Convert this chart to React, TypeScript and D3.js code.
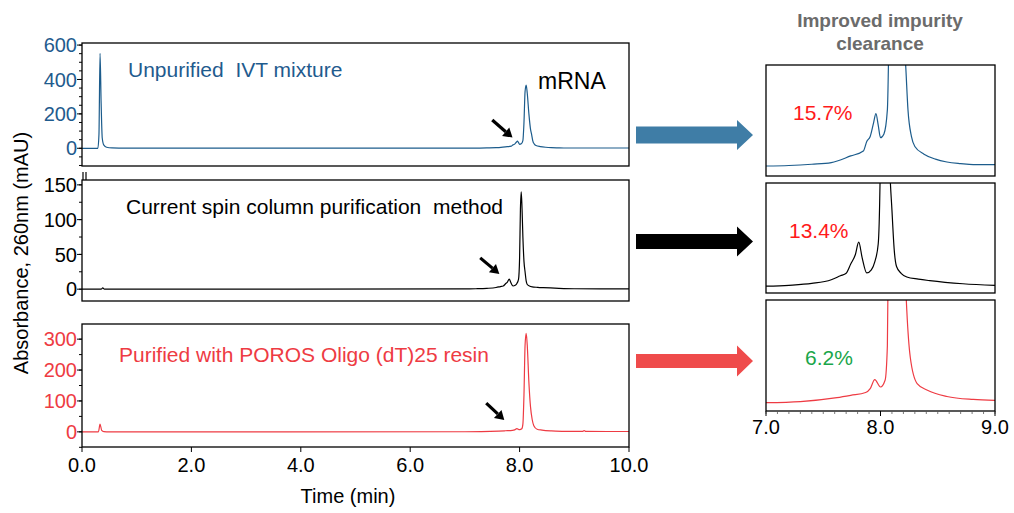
import * as d3 from 'd3';

// retention time axis (min)
const timeTicks = [0, 2, 4, 6, 8, 10];
const zoomTicks = [7, 8, 9];

// Unpurified IVT mixture
const ivtTime = [0, 0.29, 0.31, 0.33, 0.35, 0.37, 0.4, 0.45, 0.55, 0.8, 7.0, 7.2, 7.4, 7.57, 7.74, 7.85, 7.88, 7.91, 7.94, 7.96, 7.98, 8.0, 8.03, 8.06, 8.08, 8.1, 8.12, 8.14, 8.17, 8.2, 8.22, 8.24, 8.27, 8.3, 8.38, 8.48, 8.58, 8.7, 8.81, 9.0, 10.0];
const ivtAbs = [0, 0, 80, 552, 260, 60, 18, 6, 2, 0.5, 0.6, 1, 2, 3.3, 8.6, 12.5, 20, 24, 35, 42, 33, 23, 26, 45, 150, 330, 368, 320, 200, 110, 80, 45, 24, 16, 10, 6, 3.8, 2.5, 1.7, 1.7, 1.5];

// spin column
const spinTime = [0, 0.35, 0.38, 0.41, 0.45, 7.0, 7.2, 7.4, 7.57, 7.65, 7.7, 7.74, 7.78, 7.81, 7.84, 7.88, 7.92, 7.95, 7.98, 8.0, 8.015, 8.03, 8.045, 8.06, 8.08, 8.1, 8.12, 8.14, 8.18, 8.23, 8.33, 8.43, 8.72, 9.0, 10.0];
const spinAbs = [0, 0, 1.8, 0, 0, 0.3, 0.6, 1.2, 2.4, 3.7, 4.5, 7.5, 10.5, 14.6, 9.5, 4.6, 5.6, 8.2, 14, 45, 115, 140, 115, 75, 40, 25, 12, 6.7, 4.5, 3.3, 2.6, 2.1, 1.1, 0.6, 0.5];

// POROS Oligo (dT)25
const porosTime = [0, 0.3, 0.33, 0.36, 0.4, 0.5, 7.0, 7.3, 7.62, 7.74, 7.87, 7.91, 7.95, 8.0, 8.04, 8.06, 8.08, 8.1, 8.12, 8.14, 8.17, 8.2, 8.23, 8.26, 8.32, 8.41, 8.58, 8.81, 9.0, 9.15, 9.18, 9.21, 10.0];
const porosAbs = [0, 0, 25, 5, 1, 0, 0.3, 0.8, 2.5, 3.5, 4.7, 6.4, 10.3, 7.1, 10, 25, 120, 280, 319, 280, 160, 80, 40, 20, 8.6, 5.7, 3, 1.7, 1.3, 1.3, 4, 1.3, 1.2];

const labels = ['Unpurified  IVT mixture', 'Current spin column purification  method', 'Purified with POROS Oligo (dT)25 resin'];
const impurity = ['15.7%', '13.4%', '6.2%'];

const FONT = 'Liberation Sans, Arial, sans-serif';
const mainLeft = 82;
const mainRight = 629;
const zoomLeft = 766;
const zoomRight = 995;

const x = d3.scaleLinear().domain([0, 10]).range([mainLeft, mainRight]);
const xz = d3.scaleLinear().domain([7, 9]).range([zoomLeft, zoomRight]);

const panels = [
  {
    time: ivtTime, abs: ivtAbs, color: '#1c5c8c', tickColor: '#1f5b8e',
    top: 43, bottom: 166, domain: [-103, 612], ticks: [0, 200, 400, 600], minor: d3.range(-100, 601, 50),
    labelX: 128, labelY: 77, labelColor: '#1f5b8e',
    arrow: [[7.5, 164], [7.87, 62]],
    zTop: 65, zBottom: 176, zDomain: [-7.3, 80.5], pctX: 793, pctY: 120, pctColor: '#ff1a1a',
    big: { y: 135, body: 8.5, head: 15, color: '#3f7da6' },
  },
  {
    time: spinTime, abs: spinAbs, color: '#000000', tickColor: '#000000',
    top: 180, bottom: 301, domain: [-17, 157], ticks: [0, 50, 100, 150], minor: d3.range(0, 151, 25),
    labelX: 126, labelY: 214, labelColor: '#000000',
    arrow: [[7.28, 45], [7.63, 22]],
    zTop: 183, zBottom: 293, zDomain: [-1.9, 33.8], pctX: 789, pctY: 238, pctColor: '#ff1a1a',
    big: { y: 241.5, body: 7.5, head: 15, color: '#000000' },
  },
  {
    time: porosTime, abs: porosAbs, color: '#ee3b43', tickColor: '#ee3b43',
    top: 324, bottom: 447, domain: [-49, 349], ticks: [0, 100, 200, 300], minor: d3.range(-50, 301, 50),
    labelX: 119, labelY: 362, labelColor: '#ee3b43',
    arrow: [[7.39, 93], [7.72, 38]],
    zTop: 300, zBottom: 411, zDomain: [-3.3, 44.8], pctX: 805, pctY: 365, pctColor: '#1aa64a',
    big: { y: 361, body: 7, head: 15.5, color: '#ef4b4b' },
  },
];

function Panel({ p, i }: { p: any; i: number }) {
  const y = d3.scaleLinear().domain(p.domain).range([p.bottom, p.top]);
  const yz = d3.scaleLinear().domain(p.zDomain).range([p.zBottom, p.zTop]);
  const pts = p.time.map((t: number, k: number) => [t, p.abs[k]]);
  const line = d3.line<number[]>().x(d => x(d[0])).y(d => y(d[1])).curve(d3.curveMonotoneX);
  const zpts = pts.filter((d: number[]) => d[0] >= 6.9 && d[0] <= 9.1);
  const zline = d3.line<number[]>().x(d => xz(d[0])).y(d => yz(d[1])).curve(d3.curveMonotoneX);
  const [a0, a1] = p.arrow;
  const ax0 = x(a0[0]), ay0 = y(a0[1]), ax1 = x(a1[0]), ay1 = y(a1[1]);
  const ang = Math.atan2(ay1 - ay0, ax1 - ax0);
  const hl = 9, hw = 5.5;
  const bx = ax1 - hl * Math.cos(ang), by = ay1 - hl * Math.sin(ang);
  const head = `M${ax1},${ay1} L${bx - hw * Math.sin(ang)},${by + hw * Math.cos(ang)} L${bx + hw * Math.sin(ang)},${by - hw * Math.cos(ang)} Z`;
  const b = p.big;
  const bigArrow = `M636,${b.y - b.body} L737,${b.y - b.body} L737,${b.y - b.head} L753,${b.y} L737,${b.y + b.head} L737,${b.y + b.body} L636,${b.y + b.body} Z`;
  return (
    <g>
      <defs>
        <clipPath id={`zc${i}`}>
          <rect x={zoomLeft} y={p.zTop} width={zoomRight - zoomLeft} height={p.zBottom - p.zTop} />
        </clipPath>
      </defs>
      {p.minor.map((v: number) => (
        <line key={`m${v}`} x1={mainLeft - 3} x2={mainLeft} y1={y(v)} y2={y(v)} stroke="#000" strokeWidth={1} />
      ))}
      {p.ticks.map((v: number) => (
        <g key={v}>
          <line x1={mainLeft - 5} x2={mainLeft} y1={y(v)} y2={y(v)} stroke="#000" strokeWidth={1} />
          <text x={mainLeft - 5} y={y(v)} dy="0.36em" textAnchor="end" fontSize={20} fill={p.tickColor}>{v}</text>
        </g>
      ))}
      <path d={line(pts) || ''} fill="none" stroke={p.color} strokeWidth={1.2} />
      <rect x={mainLeft} y={p.top} width={mainRight - mainLeft} height={p.bottom - p.top} fill="none" stroke="#000" strokeWidth={1.3} />
      <text x={p.labelX} y={p.labelY} fontSize={21} fill={p.labelColor} style={{ whiteSpace: 'pre' }}>{labels[i]}</text>
      <line x1={ax0} y1={ay0} x2={bx} y2={by} stroke="#000" strokeWidth={3.2} />
      <path d={head} fill="#000" />
      <path d={bigArrow} fill={b.color} />
      <path d={zline(zpts) || ''} fill="none" stroke={p.color} strokeWidth={1.2} clipPath={`url(#zc${i})`} />
      <rect x={zoomLeft} y={p.zTop} width={zoomRight - zoomLeft} height={p.zBottom - p.zTop} fill="none" stroke="#000" strokeWidth={1.3} />
      <text x={p.pctX} y={p.pctY} fontSize={21} fill={p.pctColor}>{impurity[i]}</text>
    </g>
  );
}

export default function App() {
  const last = panels[2];
  return (
    <svg width={1014} height={513} style={{ position: 'absolute', left: 0, top: 0, background: '#fff' }} fontFamily={FONT}>
      {panels.map((p, i) => <Panel key={i} p={p} i={i} />)}
      <text x={538} y={89} fontSize={23} fill="#000">mRNA</text>
      {/* axis break marks */}
      <line x1={83} x2={83} y1={172} y2={180} stroke="#000" strokeWidth={1.2} />
      <line x1={86} x2={86} y1={172} y2={180} stroke="#000" strokeWidth={1.2} />
      {timeTicks.map(t => (
        <g key={t}>
          <line x1={x(t)} x2={x(t)} y1={last.bottom} y2={last.bottom + 5} stroke="#000" strokeWidth={1} />
          <text x={x(t)} y={last.bottom + 25} textAnchor="middle" fontSize={20} fill="#000">{t.toFixed(1)}</text>
        </g>
      ))}
      <text x={348} y={503} textAnchor="middle" fontSize={20} fill="#000">Time (min)</text>
      <text transform="translate(28,253) rotate(-90)" textAnchor="middle" fontSize={20} fill="#000">Absorbance, 260nm (mAU)</text>
      {d3.range(7, 9.001, 0.1).map(t => (
        <line key={t} x1={xz(t)} x2={xz(t)} y1={last.zBottom} y2={last.zBottom + 3} stroke="#555" strokeWidth={0.8} />
      ))}
      {zoomTicks.map(t => (
        <g key={t}>
          <line x1={xz(t)} x2={xz(t)} y1={last.zBottom} y2={last.zBottom + 5} stroke="#000" strokeWidth={1} />
          <text x={xz(t)} y={434} textAnchor="middle" fontSize={20} fill="#000">{t.toFixed(1)}</text>
        </g>
      ))}
      <text x={880} y={27} textAnchor="middle" fontSize={19} fontWeight="bold" fill="#6b6b6b">Improved impurity</text>
      <text x={880} y={50} textAnchor="middle" fontSize={19} fontWeight="bold" fill="#6b6b6b">clearance</text>
    </svg>
  );
}
